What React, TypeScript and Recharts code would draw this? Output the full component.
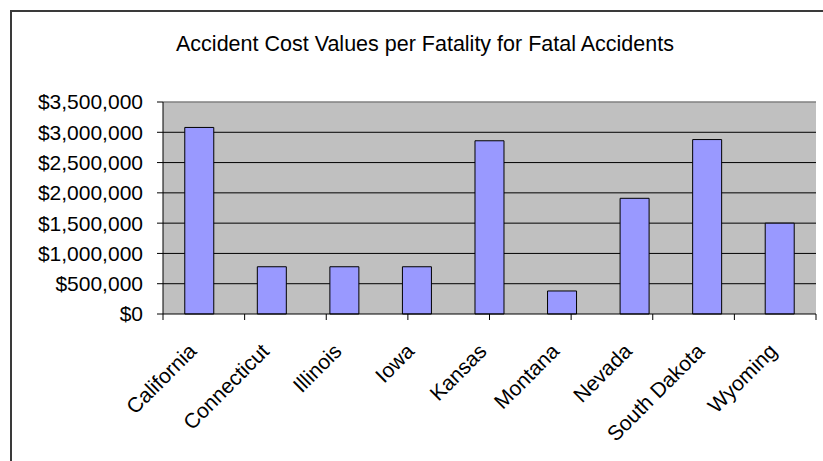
import React from 'react';
import {
    BarChart, Bar, XAxis, YAxis, CartesianGrid, ReferenceLine
} from 'recharts';

const states = ['California', 'Connecticut', 'Illinois', 'Iowa', 'Kansas', 'Montana', 'Nevada', 'South Dakota', 'Wyoming'];
const costPerFatality = [3080000, 780000, 780000, 780000, 2860000, 380000, 1910000, 2880000, 1500000];
const yTicks = [0, 500000, 1000000, 1500000, 2000000, 2500000, 3000000, 3500000];
const gridValues = [500000, 1000000, 1500000, 2000000, 2500000, 3000000];
const edgeTicks = [0, 1, 2, 3, 4, 5, 6, 7, 8, 9];

const data = states.map((s, i) => ({ state: s, cost: costPerFatality[i] }));

const font = '"Liberation Sans", Arial, sans-serif';
const money = (v: number) => '$' + v.toLocaleString('en-US');

export default function App() {
    return (
        <div style={{ position: 'fixed', left: 0, top: 0, width: 823, height: 461, overflow: 'hidden', background: '#fff' }}>
            <div style={{ position: 'absolute', left: 10, top: 10, width: 900, height: 600, border: '2px solid #3a3a3a' }} />
            <div style={{ position: 'absolute', left: 0, top: 32, width: 850, textAlign: 'center', fontFamily: font, fontSize: 21.5, color: '#000', whiteSpace: 'nowrap' }}>
                Accident Cost Values per Fatality for Fatal Accidents
            </div>
            <div style={{ position: 'absolute', left: 0, top: 0 }}>
                <BarChart width={823} height={461} data={data} margin={{ top: 102, right: 7, left: 0, bottom: 0 }} barCategoryGap="30%">
                    <CartesianGrid vertical={false} horizontalValues={gridValues} stroke="#000" fill="#c0c0c0" fillOpacity={1} />
                    {/* boundary tick marks between categories, sits right under the plot */}
                    <XAxis type="number" domain={[0, 9]} ticks={edgeTicks} interval={0}
                        tickFormatter={() => ''} height={6} tickSize={6} stroke="#000" />
                    <XAxis xAxisId="cat" dataKey="state" interval={0} axisLine={false} tickLine={false} height={141}
                        tickSize={0} tickMargin={22} angle={-45}
                        tick={{ fill: '#000', fontSize: 21, fontFamily: font, textAnchor: 'end', dx: -12 }} />
                    <YAxis domain={[0, 3500000]} ticks={yTicks} interval={0} width={163} tickSize={6} tickMargin={14}
                        stroke="#000" tickFormatter={money}
                        tick={{ fill: '#000', fontSize: 21, fontFamily: font }} />
                    <ReferenceLine y={3500000} stroke="#808080" strokeWidth={1.5} />
                    <ReferenceLine x={9} stroke="#808080" strokeWidth={1.5} />
                    <Bar xAxisId="cat" dataKey="cost" fill="#9999ff" stroke="#000" strokeWidth={1} isAnimationActive={false} />
                </BarChart>
            </div>
        </div>
    );
}
